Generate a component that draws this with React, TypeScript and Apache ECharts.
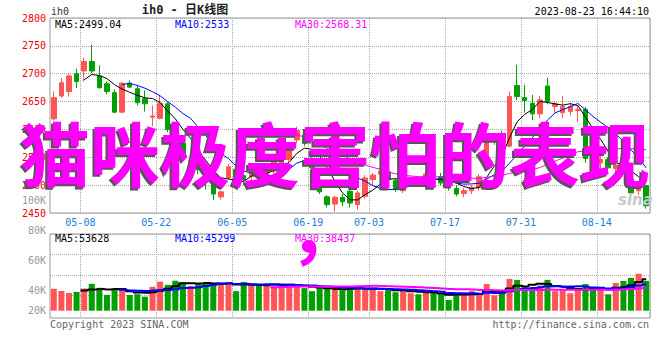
import React, { useEffect, useRef } from "react";
import * as echarts from "echarts";

// ---- data ----
const dates = [
  "04-27","04-28","05-04","05-05","05-08","05-09","05-10","05-11","05-12","05-15",
  "05-16","05-17","05-18","05-19","05-22","05-23","05-24","05-25","05-26","05-29",
  "05-30","05-31","06-01","06-02","06-05","06-06","06-07","06-08","06-09","06-12",
  "06-13","06-14","06-15","06-16","06-19","06-20","06-21","06-26","06-27","06-28",
  "06-29","06-30","07-03","07-04","07-05","07-06","07-07","07-10","07-11","07-12",
  "07-13","07-14","07-17","07-18","07-19","07-20","07-21","07-24","07-25","07-26",
  "07-27","07-28","07-31","08-01","08-02","08-03","08-04","08-07","08-08","08-09",
  "08-10","08-11","08-14","08-15","08-16","08-17","08-18","08-21","08-22"
];
const opens = [
  2619,2660,2668,2700,2705,2722,2696,2682,2666,2631,
  2683,2673,2655,2622,2620,2646,2600,2575,2543,2545,
  2537,2512,2479,2513,2528,2517,2515,2530,2518,2526,
  2540,2546,2581,2590,2546,2504,2479,2466,2478,2489,
  2465,2480,2510,2520,2524,2508,2490,2502,2510,2503,
  2522,2515,2500,2494,2485,2490,2495,2549,2578,2588,
  2570,2679,2657,2647,2628,2678,2641,2630,2632,2634,
  2636,2548,2540,2546,2530,2535,2510,2490,2499
];
const closes = [
  2657,2684,2696,2686,2722,2705,2675,2668,2631,2683,
  2676,2648,2646,2624,2647,2600,2578,2552,2545,2528,
  2522,2484,2488,2533,2517,2510,2533,2518,2528,2542,
  2548,2569,2598,2575,2531,2488,2465,2478,2470,2468,
  2486,2513,2518,2525,2510,2492,2503,2510,2505,2520,
  2515,2504,2495,2484,2490,2496,2515,2585,2585,2580,
  2659,2659,2652,2628,2653,2650,2646,2641,2641,2636,
  2548,2540,2546,2531,2536,2528,2486,2496,2463
];
const lows = [
  2616,2657,2659,2674,2686,2701,2673,2663,2629,2629,
  2674,2643,2632,2606,2618,2595,2570,2545,2532,2520,
  2492,2473,2474,2510,2505,2500,2503,2510,2512,2520,
  2535,2542,2575,2570,2525,2484,2460,2453,2462,2460,
  2456,2476,2500,2512,2505,2488,2486,2498,2500,2500,
  2510,2500,2490,2480,2478,2484,2490,2545,2572,2565,
  2568,2653,2630,2617,2620,2645,2630,2620,2625,2613,
  2540,2530,2525,2528,2515,2520,2480,2482,2458
];
const highs = [
  2668,2692,2700,2709,2729,2752,2715,2686,2672,2685,
  2688,2679,2670,2643,2661,2649,2606,2580,2552,2550,
  2540,2516,2490,2538,2535,2522,2540,2536,2532,2545,
  2556,2575,2605,2596,2550,2510,2482,2481,2484,2492,
  2490,2518,2522,2530,2528,2512,2508,2514,2515,2525,
  2530,2522,2508,2500,2495,2500,2520,2590,2590,2598,
  2668,2716,2680,2662,2660,2693,2650,2660,2648,2644,
  2640,2560,2555,2550,2542,2545,2520,2500,2500
];
const volumes = [
  37100,33600,30100,31800,37600,45600,38800,26800,35800,37100,
  26800,28000,23800,40500,49100,43800,50800,47900,41800,45200,
  48700,47000,45200,47000,33100,48700,45200,43500,45200,40000,
  45200,45200,41800,38300,33100,38300,38300,36500,34800,38300,
  40000,36500,38300,33100,34800,31300,36500,29600,27800,31300,
  29600,27800,18300,29600,31300,33100,29600,45200,26100,33100,
  53900,52200,40000,40000,42600,52200,33100,34800,29600,34800,
  45200,40000,34800,27800,47000,50500,55700,62600,50500
];
const labelDates = ["05-08","05-22","06-05","06-19","07-03","07-17","07-31","08-14"];
const volTickLabels = ["20K","40K","60K","80K","100K"];
const priceLegend = ["MA5:2499.04", "MA10:2533", "MA30:2568.31"];
const volLegend = ["MA5:53628", "MA10:45299", "MA30:38437"];
const titleText = "ih0 - 日K线图";
const codeText = "ih0";
const timeText = "2023-08-23 16:44:10";
const copyText = "Copyright 2023 SINA.COM";
const urlText = "http://finance.sina.com.cn";
const overlayLine1 = "猫咪极度害怕的表现";
const overlayLine2 = "，";

// ---- styles ----
const UP = "#ff5555";
const DOWN = "#00a000";
const MA_COLORS = ["#000000", "#0000ff", "#ff00ff"];
const MONO = '"DejaVu Sans Mono", monospace';
const GRID_LINE = { color: "#aaaaaa", type: "dotted" as const, width: 1 };

function movingAverage(src: number[], n: number) {
  return src.map((_, i) => {
    if (i < n - 1) return "-";
    let s = 0;
    for (let k = i - n + 1; k <= i; k++) s += src[k];
    return +(s / n).toFixed(2);
  });
}

export default function App() {
  const ref = useRef<HTMLDivElement>(null);
  useEffect(() => {
    if (!ref.current) return;
    const chart = echarts.init(ref.current, null, { renderer: "svg" });
    const isLabelDate = (_i: number, v: string) => labelDates.includes(v);
    const L = 50, R = 10;
    const maLine = (data: any[], color: string, xi: number, yi: number, width: number, step?: any) => ({
      type: "line", data, xAxisIndex: xi, yAxisIndex: yi, symbol: "none", step: step || false,
      lineStyle: { color, width }, silent: true, z: 5,
    });
    const candle = dates.map((_, i) => [opens[i], closes[i], lows[i], highs[i]]);
    const volData = volumes.map((v, i) => ({
      value: v, itemStyle: { color: closes[i] >= opens[i] ? UP : DOWN },
    }));
    const legendItems = (arr: string[], y: number) =>
      arr.map((t, k) => ({
        type: "text", x: 55 + k * 120, y, z: 50,
        style: { text: t, fill: MA_COLORS[k], font: `10px ${MONO}`, textVerticalAlign: "middle" },
      }));
    const option: any = {
      animation: false,
      backgroundColor: "#ffffff",
      grid: [
        { left: L, right: R, top: 18, bottom: 147, show: true, borderColor: "#999", borderWidth: 1 },
        { left: L, right: R, top: 234, bottom: 42, show: true, borderColor: "#999", borderWidth: 1 },
        { left: L, right: R, top: 234, bottom: 49.3 },
        { left: L, right: R, top: 234, bottom: 64.3 },
        { left: L, right: R, top: 200.7, bottom: 39.3 },
      ],
      xAxis: [
        {
          gridIndex: 0, type: "category", data: dates, boundaryGap: true,
          axisLine: { show: false }, axisTick: { show: false },
          axisLabel: {
            interval: isLabelDate, color: "#1a80d8", fontFamily: MONO, fontSize: 10,
            margin: 4, padding: [0, 7.6, 0, 0],
          },
          splitLine: { show: true, interval: isLabelDate, lineStyle: GRID_LINE },
        },
        {
          gridIndex: 1, type: "category", data: dates, boundaryGap: true,
          axisLine: { show: false }, axisTick: { show: false }, axisLabel: { show: false },
          splitLine: { show: true, interval: isLabelDate, lineStyle: GRID_LINE },
        },
        { gridIndex: 2, type: "category", data: dates, boundaryGap: true, show: false },
        { gridIndex: 3, type: "value", show: false },
        { gridIndex: 4, type: "value", show: false },
      ],
      yAxis: [
        {
          gridIndex: 0, type: "value", min: 2450, max: 2800, interval: 50,
          axisLine: { show: false }, axisTick: { show: false },
          axisLabel: { color: "#ee0000", fontFamily: MONO, fontSize: 10, margin: 4, formatter: (v: number) => String(v) },
          splitLine: { show: true, lineStyle: GRID_LINE },
        },
        { gridIndex: 1, type: "value", show: false },
        { gridIndex: 2, type: "value", min: 0, max: 130000, show: false },
        {
          gridIndex: 3, type: "value", min: 0, max: 60, interval: 20,
          axisLine: { show: false }, axisTick: { show: false }, axisLabel: { show: false },
          splitLine: { show: true, lineStyle: GRID_LINE },
        },
        {
          gridIndex: 4, type: "value", min: 20000, max: 100000, interval: 20000,
          axisLine: { show: false }, axisTick: { show: false }, splitLine: { show: false },
          axisLabel: {
            color: "#999999", fontFamily: MONO, fontSize: 10, margin: 4,
            formatter: (v: number) => {
              const t = volTickLabels[Math.round(v / 20000) - 1];
              return v === 20000 ? `{up|${t}}` : t;
            },
            rich: { up: { color: "#999999", fontFamily: MONO, fontSize: 10, padding: [0, 0, 21, 0] } },
          },
        },
      ],
      series: [
        {
          type: "candlestick", data: candle, xAxisIndex: 0, yAxisIndex: 0, barWidth: 5,
          itemStyle: { color: UP, color0: DOWN, borderColor: UP, borderColor0: DOWN, borderWidth: 1 },
          silent: true,
        },
        maLine(movingAverage(closes, 5), MA_COLORS[0], 0, 0, 1),
        maLine(movingAverage(closes, 10), MA_COLORS[1], 0, 0, 1),
        maLine(movingAverage(closes, 30), MA_COLORS[2], 0, 0, 1),
        { type: "bar", data: volData, xAxisIndex: 2, yAxisIndex: 2, barWidth: 6, silent: true },
        maLine(movingAverage(volumes, 5), MA_COLORS[0], 2, 2, 2, "middle"),
        maLine(movingAverage(volumes, 10), MA_COLORS[1], 2, 2, 2, "middle"),
        maLine(movingAverage(volumes, 30), MA_COLORS[2], 2, 2, 2, "middle"),
      ],
      graphic: [
        { type: "text", x: 185, y: 10, style: { text: titleText, fill: "#222", font: `bold 12px ${MONO}, "Noto Sans CJK SC"`, textAlign: "center", textVerticalAlign: "middle" } },
        { type: "text", x: 51, y: 11, style: { text: codeText, fill: "#333", font: `10px ${MONO}`, textVerticalAlign: "middle" } },
        { type: "text", x: 649, y: 11, style: { text: timeText, fill: "#000", font: `10px ${MONO}`, textAlign: "right", textVerticalAlign: "middle" } },
        { type: "text", x: 50, y: 324, style: { text: copyText, fill: "#666", font: `10px ${MONO}`, textVerticalAlign: "middle" } },
        { type: "text", x: 649, y: 324, style: { text: urlText, fill: "#666", font: `10px ${MONO}`, textAlign: "right", textVerticalAlign: "middle" } },
        ...legendItems(priceLegend, 24),
        ...legendItems(volLegend, 238.5),
        { type: "text", x: 618, y: 200, z: 40, style: { text: "sina", fill: "#c8c8c8", font: `italic bold 15px "DejaVu Sans"`, textVerticalAlign: "middle" } },
        { type: "text", x: 333, y: 153, z: 90, style: { text: overlayLine1, fill: "#555555", font: 'bold 70px "Noto Sans CJK SC"', textAlign: "center", textVerticalAlign: "middle" } },
        { type: "text", x: 335, y: 151, z: 100, style: { text: overlayLine1, fill: "#ff00ff", font: 'bold 70px "Noto Sans CJK SC"', textAlign: "center", textVerticalAlign: "middle" } },
        { type: "text", x: 289, y: 226, z: 100, style: { text: overlayLine2, fill: "#ff00ff", font: 'bold 70px "Noto Sans CJK SC"', textAlign: "left", textVerticalAlign: "middle" } },
      ],
    };
    chart.setOption(option);
    return () => chart.dispose();
  }, []);
  return (
    <div
      ref={ref}
      style={{ position: "absolute", left: 0, top: 0, width: 660, height: 360, background: "#fff" }}
    />
  );
}
